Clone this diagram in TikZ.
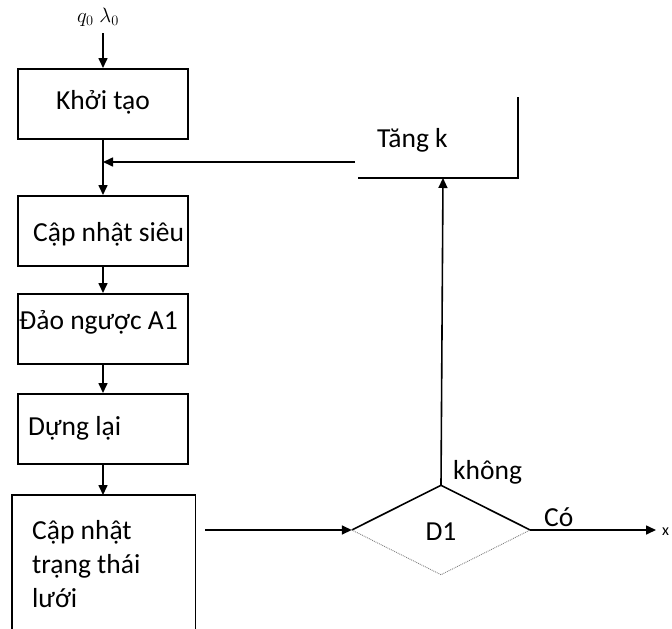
\documentclass[tikz,border=0pt]{standalone}
\usepackage{fontspec}
\setmainfont{Carlito}
\usetikzlibrary{arrows.meta,shapes.geometric}
\begin{document}
\begin{tikzpicture}[x=1pt,y=-1pt,
  box/.style={draw,line width=1.6pt,minimum width=170pt,minimum height=70pt,inner sep=0pt,anchor=north west},
  lbl/.style={font=\fontsize{27.5}{34}\selectfont,inner sep=0pt},
  arr/.style={line width=1.6pt,-{Triangle[length=10pt,width=9pt]}},
  ln/.style={line width=1.6pt}]
\useasboundingbox (0,0) rectangle (672,629);
% top label
\node[lbl,font=\fontsize{20}{22}\selectfont] (in) at (98,17) {$q_0\;\lambda_0$};
\coordinate (inb) at (103,33);
% boxes
\node[box] (b1) at (17,68) {};
\node[lbl] at (103,102) {Khởi tạo};
\node[box] (b2) at (17,195) {};
\begin{scope}
\clip (17,195) rectangle (187,265);
\node[lbl,anchor=west] at (33,234) {Cập nhật siêu};
\end{scope}
\node[box] (b3) at (17,293) {};
\node[lbl,anchor=west] at (19,322) {Đảo ngược A1};
\node[box] (b4) at (17,393) {};
\node[lbl,anchor=west] at (28,428) {Dựng lại};
\node[draw=none,minimum width=183pt,minimum height=140pt,inner sep=0pt,anchor=north west] (b5) at (12,495) {};
\draw[ln] (b5.south west) -- (b5.north west) -- (b5.north east) -- (b5.south east);
\node[lbl,anchor=north west,align=left] at (32,520) {Cập nhật\\trạng thái\\lưới};
% Tang k open box
\coordinate (tkr) at (518,97);
\coordinate (tkbl) at (358,178);
\coordinate (tkbr) at (518,178);
\draw[ln] (tkr) -- (tkbr) -- (tkbl);
\node[lbl,anchor=west] (tk) at (377,140) {Tăng k};
\coordinate (tkin) at (443,178);
% diamond
\node[diamond,aspect=2,minimum width=178pt,minimum height=89pt,inner sep=0pt] (d1) at (441,530) {};
\draw[ln] (d1.west) -- (d1.north) -- (d1.east);
\draw[line width=0.9pt,densely dotted,gray] (d1.west) -- (d1.south) -- (d1.east);
\node[lbl] at (441,532) {D1};
\node[lbl,anchor=west] at (453,472) {không};
\node[lbl,anchor=west] at (544,517) {Có};
\coordinate (out) at (656,530);
\node[lbl,anchor=west,font=\fontsize{16}{18}\selectfont] at (662,532) {x};
% connectors
\draw[arr] (inb) -- (b1.north -| inb);
\draw[arr] (b1.south -| inb) -- (b2.north -| inb);
\coordinate (j) at (103,162);
\draw[arr] (355,162) -- (j);
\draw[arr] (b2.south -| inb) -- (b3.north -| inb);
\draw[arr] (b3.south -| inb) -- (b4.north -| inb);
\draw[arr] (b4.south -| inb) -- (b5.north -| inb);
\draw[arr] (205,530) -- (d1.west);
\draw[arr] (d1.north) -- (tkin);
\draw[arr] (d1.east) -- (out);
\end{tikzpicture}
\end{document}
